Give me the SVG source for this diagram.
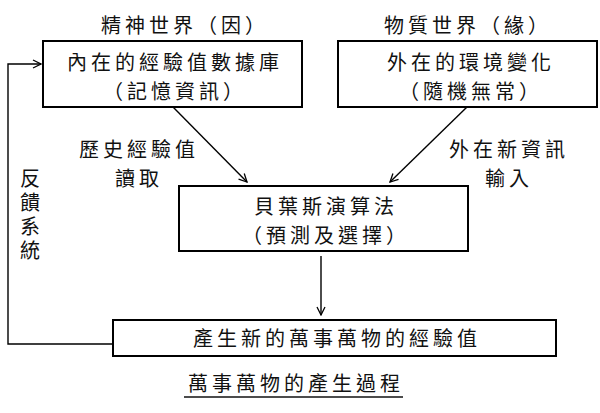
<svg xmlns="http://www.w3.org/2000/svg" width="600" height="413" viewBox="0 0 600 413">
<defs>
<marker id="ah" markerWidth="10" markerHeight="10" refX="9" refY="5" orient="auto" markerUnits="userSpaceOnUse">
<path d="M1,1 L9,5 L1,9" fill="none" stroke="#000" stroke-width="1.3"/>
</marker>
<style>
.box{fill:#fff;stroke:#000;stroke-width:2}
.t{font-family:"Noto Sans CJK TC","Noto Sans CJK SC",sans-serif;font-size:20px;fill:#111;text-anchor:middle;letter-spacing:4px}
.c{fill:none;stroke:#000;stroke-width:1.4}
</style>
</defs>
<rect width="600" height="413" fill="#fff"/>
<g id="connectors">
<polyline class="c" points="112,344 8,344 8,64 41,64" marker-end="url(#ah)"/>
<line class="c" x1="173" y1="107" x2="247" y2="182" marker-end="url(#ah)"/>
<line class="c" x1="467" y1="107" x2="390" y2="182" marker-end="url(#ah)"/>
<line class="c" x1="321" y1="256" x2="321" y2="315" marker-end="url(#ah)"/>
</g>
<g id="n_inner">
<rect class="box" x="43" y="41" width="259" height="66"/>
<text class="t" x="175" y="70">內在的經驗值數據庫<tspan x="175" dy="29">（記憶資訊）</tspan></text>
</g>
<g id="n_outer">
<rect class="box" x="338" y="41" width="259" height="66"/>
<text class="t" x="471" y="70">外在的環境變化<tspan x="471" dy="29">（隨機無常）</tspan></text>
</g>
<g id="n_bayes">
<rect class="box" x="179" y="186" width="289" height="65"/>
<text class="t" x="326" y="214">貝葉斯演算法<tspan x="326" dy="29">（預測及選擇）</tspan></text>
</g>
<g id="n_result">
<rect class="box" x="113" y="320" width="443" height="36"/>
<text class="t" x="337" y="346">產生新的萬事萬物的經驗值</text>
</g>
<g id="labels">
<text class="t" x="185" y="33">精神世界（因）</text>
<text class="t" x="468" y="33">物質世界（緣）</text>
<text class="t" x="139" y="157">歷史經驗值<tspan x="139" dy="29">讀取</tspan></text>
<text class="t" x="509" y="157">外在新資訊<tspan x="509" dy="29">輸入</tspan></text>
<text class="t" x="30" y="168" style="writing-mode:vertical-rl;text-anchor:start;letter-spacing:4px">反饋系統</text>
<text class="t" x="296" y="391">萬事萬物的產生過程</text>
<line x1="184" y1="397" x2="403" y2="397" stroke="#111" stroke-width="1.5"/>
</g>
</svg>
